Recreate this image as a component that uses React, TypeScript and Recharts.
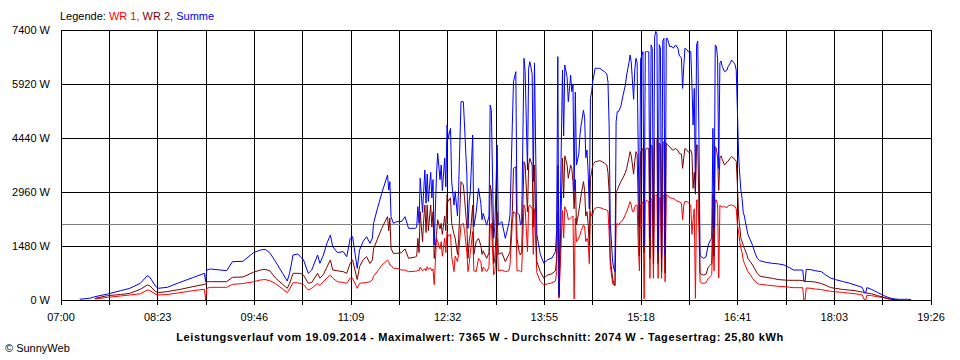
import React from "react";
import { LineChart, Line, XAxis, YAxis, CartesianGrid, ReferenceLine } from "recharts";

// sample times (HH:MM)
const times = [
  "07:16","07:25","07:29","07:40","07:51","07:59","08:08","08:14","08:16","08:21",
  "08:23","08:31","08:42","08:53","09:03","09:04","09:05","09:08","09:22","09:27",
  "09:36","09:45","09:51","09:55","09:59","10:04","10:10","10:14","10:16","10:19",
  "10:23","10:25","10:28","10:32","10:35","10:40","10:42","10:45","10:48","10:51",
  "10:53","10:57","11:02","11:05","11:08","11:10","11:14","11:16","11:19","11:22",
  "11:25","11:27","11:28","11:31","11:35","11:40","11:41","11:42","11:43","11:45",
  "11:48","11:52","11:55","11:58","12:04","12:05","12:06","12:07","12:08","12:10",
  "12:11","12:12","12:13","12:14","12:15","12:17","12:18","12:19","12:20","12:22",
  "12:23","12:25","12:26","12:27","12:29","12:30","12:31","12:32","12:34","12:35",
  "12:37","12:38","12:40","12:41","12:43","12:45","12:46","12:48","12:49","12:50",
  "12:51","12:53","12:54","12:56","12:58","13:00","13:01","13:02","13:05","13:07",
  "13:08","13:09","13:11","13:12","13:14","13:15","13:18","13:21","13:24","13:25",
  "13:27","13:28","13:30","13:31","13:33","13:34","13:35","13:37","13:38","13:40",
  "13:41","13:42","13:44","13:45","13:46","13:48","13:51","13:54","13:57","14:01",
  "14:04","14:05","14:06","14:07","14:10","14:11","14:12","14:14","14:15","14:17",
  "14:18","14:19","14:20","14:21","14:22","14:24","14:25","14:26","14:28","14:29",
  "14:30","14:31","14:32","14:33","14:34","14:35","14:36","14:37","14:38","14:40",
  "14:42","14:44","14:46","14:48","14:49","14:50","14:51","14:53","14:54","14:55",
  "14:56","14:57","14:58","15:00","15:02","15:04","15:05","15:07","15:08","15:09",
  "15:10","15:11","15:12","15:13","15:14","15:15","15:16","15:17","15:18","15:19",
  "15:20","15:21","15:22","15:23","15:24","15:25","15:26","15:27","15:28","15:29",
  "15:30","15:31","15:32","15:33","15:34","15:35","15:36","15:37","15:38","15:39",
  "15:40","15:42","15:44","15:45","15:47","15:49","15:50","15:52","15:53","15:54",
  "15:55","15:57","15:58","16:00","16:01","16:02","16:03","16:04","16:05","16:06",
  "16:07","16:08","16:09","16:11","16:13","16:15","16:17","16:18","16:19","16:20",
  "16:21","16:22","16:23","16:24","16:25","16:26","16:27","16:29","16:31","16:32",
  "16:34","16:35","16:37","16:38","16:39","16:40","16:41","16:42","16:43","16:44",
  "16:45","16:46","16:48","16:49","16:51","16:53","16:55","16:57","16:59","17:01",
  "17:05","17:10","17:15","17:20","17:25","17:28","17:33","17:36","17:37","17:38",
  "17:39","17:43","17:47","17:52","17:56","18:00","18:04","18:10","18:15","18:20",
  "18:25","18:27","18:29","18:30","18:31","18:35","18:40","18:45","18:50","18:55",
  "18:58","19:02","19:06","19:09",
];

// WR 1 (W)
const wr1 = [
  null,null,27,73,110,137,170,274,260,160,
  137,150,200,256,293,0,320,347,347,429,
  450,500,548,560,530,450,300,201,300,475,
  470,457,420,274,320,457,400,502,600,685,
  600,502,480,457,600,600,320,457,470,480,
  502,550,650,776,950,1096,1050,959,950,868,
  868,822,822,776,790,790,820,800,900,800,
  820,860,800,913,850,880,800,850,420,1690,
  1600,1400,1600,1200,1690,1300,1872,1750,1800,1200,
  776,1200,1050,1300,2055,2100,1900,1300,776,1000,
  1300,1872,800,776,1142,1050,776,900,776,900,
  2000,2100,690,776,1690,800,822,776,800,960,
  2100,2420,2370,800,800,776,780,2604,2500,1325,
  2560,2600,2500,1250,2500,750,502,411,440,470,
  520,776,2420,46,2450,1700,2558,2400,2200,2250,
  2280,2300,30,2240,1598,1700,1782,1900,2055,2000,
  1600,1690,1600,1000,2420,2300,2350,2480,2512,2540,
  2530,2512,2480,2467,2440,1872,950,450,411,400,
  2055,2100,2055,2147,2200,2350,2420,2600,2695,2600,
  2420,2420,2550,2600,2600,1500,800,2600,2650,2695,
  30,2700,2741,2700,2700,594,2787,2750,594,2860,
  2878,2878,594,2800,2800,594,2850,2878,500,2878,
  2878,2800,2787,2787,2740,2695,2695,2650,2200,2600,
  2700,2695,2650,2604,1800,2200,2500,46,2741,2741,
  2000,500,470,457,470,594,650,700,1800,800,
  2741,2741,2604,600,2600,2558,2550,2558,2530,2580,
  2600,2604,2580,2558,2500,2055,1872,1600,1416,1300,
  1100,1005,850,776,700,594,520,457,430,429,
  410,393,375,365,350,338,338,338,0,0,
  330,320,300,285,260,240,225,210,190,175,
  150,140,0,0,130,119,90,64,30,15,
  5,null,null,null,
];

// WR 2 (W)
const wr2 = [
  null,null,46,119,150,183,293,411,390,240,
  201,230,290,365,429,430,500,502,502,621,
  630,760,822,840,800,600,430,320,450,731,
  731,731,680,457,480,731,600,700,900,1096,
  822,800,776,730,1005,1100,560,913,1100,1187,
  1000,1100,1400,1645,1964,2284,1900,2250,1416,1279,
  1279,1300,1400,1142,1180,1200,1690,1300,2420,1600,
  2200,2604,1850,2604,1900,2604,2000,2420,1142,1800,
  2200,1950,2100,1800,2300,1900,2878,2700,2800,2100,
  1800,1700,1250,1690,3243,3150,2800,2000,1142,1600,
  1800,2600,1250,1600,1690,1500,1250,1350,1142,1300,
  3152,3000,1000,1142,2420,1250,1300,1050,1250,1325,
  2420,3610,3650,1690,1300,1233,1325,3790,3700,2420,
  3700,3883,3700,2000,3700,1050,776,594,680,720,
  800,1142,3700,80,3883,2800,3950,3700,3335,3700,
  3600,3243,2500,3300,2055,2420,2650,2878,3243,3000,
  2300,2420,2100,1500,3335,3517,3700,3750,3792,3800,
  3820,3790,3750,3700,3500,2970,1142,600,450,400,
  2970,3000,3100,3243,3350,3500,3600,3900,4066,3950,
  3700,3450,3800,4066,4000,2600,1200,4066,4100,4158,
  1300,4100,4158,4158,4150,1142,4249,4200,1000,4400,
  4432,4400,1000,4300,4250,776,4300,4340,740,4300,
  4250,4202,4112,4112,4150,4100,4020,4000,3610,3900,
  4150,4100,4050,4112,4000,3060,3500,2900,4249,4249,
  2604,740,700,685,700,900,959,1000,2900,1200,
  4202,4150,3900,3000,3900,3950,3850,3700,3780,3800,
  3900,3928,3880,3850,3800,3152,2330,2000,1690,1600,
  1500,1416,1250,1142,1050,959,850,731,660,640,
  620,594,560,548,540,540,540,530,520,510,
  510,505,490,450,400,340,320,290,275,260,
  230,220,200,195,190,170,120,80,30,10,
  0,null,null,null,
];

// Summe (W)
const summe = [
  20,50,90,164,255,320,457,666,630,384,
  320,347,484,612,731,503,820,850,804,1050,
  1060,1297,1370,1389,1297,1050,731,520,731,1233,
  1260,1200,1096,731,822,1233,1005,1233,1553,1782,
  1462,1300,1325,1187,1690,1736,868,1370,1600,1736,
  1553,1700,2102,2467,2924,3426,3015,3243,2284,2102,
  2148,2150,2284,1964,1964,2000,2558,2100,3335,2400,
  3000,3563,2650,3450,2700,3500,2800,3300,1507,3450,
  4020,3300,3700,3000,3883,3100,4796,4430,4705,3243,
  2600,2970,2300,3100,5435,5435,4796,3426,1964,2700,
  2970,4523,2010,2400,3060,2650,2200,2375,2050,2300,
  5345,5200,1690,2010,4249,2050,2150,1690,2100,2330,
  4800,5983,6257,2400,2330,2055,2100,6624,6257,3563,
  6350,6530,6200,3243,6500,1800,1250,1005,1100,1150,
  1325,1900,6670,150,6300,4500,6440,6100,5435,6165,
  5710,5896,3000,5700,3700,4000,4523,4796,5200,5000,
  3900,4112,3517,2500,5530,5710,6000,6165,6350,6350,
  6350,6300,6257,6200,5983,4796,2100,1050,860,776,
  4888,5162,5162,5300,5620,5900,6165,6500,6716,6500,
  6000,5500,6300,6625,6500,4000,2000,6600,6700,6807,
  1500,6800,6807,6807,6800,1700,6990,6900,1500,7200,
  7365,7300,1300,7000,6900,1142,7100,7170,1233,7170,
  7170,6945,6945,6900,6990,6900,6716,6625,5800,6400,
  6900,6850,6800,6807,5900,4796,5800,3000,6990,7100,
  4500,1233,1180,1142,1180,1507,1650,1690,4705,2000,
  6990,6950,6625,3600,6500,6550,6400,6257,6300,6395,
  6500,6578,6500,6450,6300,5200,4000,3426,3000,2787,
  2400,2300,1950,1800,1650,1500,1300,1142,1080,1060,
  1030,1005,990,960,880,822,822,820,520,502,
  840,830,800,776,680,600,560,510,470,420,
  370,347,200,190,340,290,210,130,60,27,
  20,20,20,10,
];

const yTicks = [0, 1480, 2960, 4440, 5920, 7400];
const xLabels = ["07:00", "08:23", "09:46", "11:09", "12:32", "13:55", "15:18", "16:41", "18:03", "19:26"];
const average = 2074;

const FONT = '"Liberation Sans", Arial, sans-serif';
const START = 7 * 60; // 07:00
const END = 19 * 60 + 26; // 19:26

const toMin = (s: string) => {
  const [h, m] = s.split(":").map(Number);
  return h * 60 + m;
};

// grid every half label step
const xTicks = Array.from({ length: 19 }, (_, i) => START + (i * (END - START)) / 18);

const data = times.map((t, i) => ({
  t: toMin(t),
  wr1: wr1[i],
  wr2: wr2[i],
  summe: summe[i],
}));

const App: React.FC = () => {
  return (
    <div
      style={{
        position: "absolute",
        left: 0,
        top: 0,
        width: 960,
        height: 360,
        background: "#fff",
        fontFamily: FONT,
        fontSize: 11,
        color: "#000",
      }}
    >
      <style>{`
        .recharts-cartesian-grid line,
        .recharts-cartesian-axis-line,
        .recharts-cartesian-axis-tick-line,
        .recharts-reference-line line { shape-rendering: crispEdges; }
      `}</style>

      <div style={{ position: "absolute", left: 60, top: 10, lineHeight: "13px" }}>
        Legende: <span style={{ color: "#ff0000" }}>WR 1,</span>{" "}
        <span style={{ color: "#800000" }}>WR 2,</span>{" "}
        <span style={{ color: "#0000ff" }}>Summe</span>
      </div>

      <LineChart
        width={960}
        height={360}
        data={data}
        margin={{ top: 30, right: 29, bottom: 30, left: 6 }}
      >
        <CartesianGrid stroke="#000" strokeWidth={1} />
        <XAxis
          dataKey="t"
          type="number"
          domain={[START, END]}
          ticks={xTicks}
          interval={0}
          height={30}
          tickSize={5}
          tickMargin={8}
          stroke="#000"
          tick={{ fill: "#000", fontSize: 11, fontFamily: FONT }}
          tickFormatter={(_v: number, i: number) => (i % 2 === 0 ? xLabels[i / 2] : "")}
        />
        <YAxis
          type="number"
          domain={[0, 7400]}
          ticks={yTicks}
          interval={0}
          width={55}
          tickLine={false}
          tickMargin={5}
          stroke="#000"
          tick={{ fill: "#000", fontSize: 11, fontFamily: FONT }}
          tickFormatter={(v: number) => `${v} W`}
        />
        <ReferenceLine y={average} stroke="#808080" strokeWidth={1} />
        {/* drawn WR 1 first, Summe last on top */}
        <Line
          type="linear"
          dataKey="wr1"
          stroke="#ff0000"
          strokeWidth={1}
          dot={false}
          isAnimationActive={false}
        />
        <Line
          type="linear"
          dataKey="wr2"
          stroke="#800000"
          strokeWidth={1}
          dot={false}
          isAnimationActive={false}
        />
        <Line
          type="linear"
          dataKey="summe"
          stroke="#0000ff"
          strokeWidth={1}
          dot={false}
          isAnimationActive={false}
        />
      </LineChart>

      <div
        style={{
          position: "absolute",
          left: 0,
          top: 331,
          width: 960,
          textAlign: "center",
          fontWeight: "bold",
          letterSpacing: "0.6px",
          lineHeight: "13px",
        }}
      >
        Leistungsverlauf vom 19.09.2014 - Maximalwert: 7365 W - Durchschnitt: 2074 W - Tagesertrag: 25,80 kWh
      </div>
      <div style={{ position: "absolute", left: 5, top: 342, lineHeight: "13px" }}>© SunnyWeb</div>
    </div>
  );
};

export default App;
